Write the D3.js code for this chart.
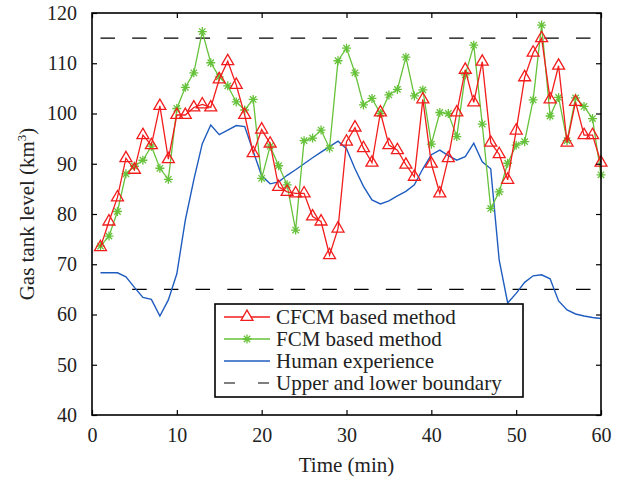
<!DOCTYPE html>
<html>
<head>
<meta charset="utf-8">
<script src="https://cdn.jsdelivr.net/npm/d3@7"></script>
<style>
  body { margin: 0; background: #fff; }
  svg { display: block; }
  svg text { font-family: "Liberation Serif", "Times New Roman", Times, "DejaVu Serif", serif; }
</style>
</head>
<body>
<svg width="621" height="481"></svg>
<script>
const TIME = d3.range(1, 61);

const CFCM = [73.4, 78.5, 83.3, 91.1, 88.8, 95.7, 93.7, 101.5, 90.9, 99.7,
  99.7, 101.2, 101.8, 101.2, 106.8, 110.4, 105.7, 99.7, 92.1, 96.8,
  94.0, 85.4, 84.4, 84.1, 84.1, 79.5, 78.5, 71.8, 77.1, 94.4,
  97.2, 93.1, 90.2, 100.2, 93.7, 92.7, 89.8, 87.4, 102.8, 90.0,
  84.1, 91.1, 100.2, 108.7, 102.2, 110.3, 94.2, 91.9, 86.8, 96.6,
  107.2, 112.1, 115.0, 102.8, 109.5, 94.2, 102.3, 95.7, 95.7, 90.2];

const FCM = [73.6, 75.6, 80.5, 88.0, 89.5, 90.7, 93.5, 89.1, 86.9, 101.0,
  105.2, 108.1, 116.3, 110.1, 107.3, 105.5, 102.3, 100.7, 102.8, 87.1,
  93.5, 89.6, 85.8, 76.8, 94.6, 95.1, 96.7, 93.1, 110.5, 113.0,
  108.1, 101.7, 103.0, 100.0, 103.7, 104.8, 111.2, 103.5, 104.7, 93.9,
  100.2, 100.0, 95.4, 107.7, 113.6, 97.9, 81.1, 84.4, 90.1, 93.7,
  94.4, 102.7, 117.6, 99.5, 103.2, 94.6, 103.1, 101.4, 99.0, 87.8];

const HUMAN = [68.3, 68.3, 68.3, 67.5, 65.4, 63.4, 63.0, 59.7, 62.9, 68.1,
  78.8, 86.8, 94.0, 97.7, 95.8, 96.7, 97.6, 97.4, 92.5, 87.6,
  86.0, 86.4, 87.7, 88.8, 90.0, 91.2, 92.3, 93.4, 94.5, 93.0,
  89.0, 85.5, 82.8, 82.0, 82.6, 83.6, 84.5, 85.8, 89.0, 91.8,
  92.7, 91.6, 90.7, 91.4, 94.1, 90.4, 89.0, 70.8, 62.3, 64.2,
  66.4, 67.7, 67.9, 67.1, 62.7, 60.9, 60.1, 59.7, 59.4, 59.2];

const BOUNDS = [115, 65];

const X_TICKS = [0, 10, 20, 30, 40, 50, 60];
const Y_TICKS = [40, 50, 60, 70, 80, 90, 100, 110, 120];

const LEGEND = [
  { label: "CFCM based method", key: "cfcm" },
  { label: "FCM based method", key: "fcm" },
  { label: "Human experience", key: "human" },
  { label: "Upper and lower boundary", key: "bound" }
];

const RED = "#f21c1c";
const GREEN = "#66c23a";
const BLUE = "#1f5cbf";
const SERIF = "'Liberation Serif', 'Times New Roman', Times, 'DejaVu Serif', serif";

const M = { left: 92, right: 601, top: 13, bottom: 415 };

const x = d3.scaleLinear().domain([0, 60]).range([M.left, M.right]);
const y = d3.scaleLinear().domain([40, 120]).range([M.bottom, M.top]);

const svg = d3.select("svg");

// boundaries
const line = d3.line().x((d, i) => x(TIME[i])).y(d => y(d));

svg.selectAll(".bound")
  .data(BOUNDS)
  .enter()
  .append("line")
  .attr("x1", x(TIME[0]))
  .attr("x2", x(TIME[TIME.length - 1]))
  .attr("y1", d => y(d))
  .attr("y2", d => y(d))
  .attr("stroke", "#000")
  .attr("stroke-width", 1.2)
  .attr("stroke-dasharray", "14.5,17.2");

// human experience
svg.append("path")
  .attr("d", line(HUMAN))
  .attr("fill", "none")
  .attr("stroke", BLUE)
  .attr("stroke-width", 1.4);

// FCM
svg.append("path")
  .attr("d", line(FCM))
  .attr("fill", "none")
  .attr("stroke", GREEN)
  .attr("stroke-width", 1.3);

const star = r => {
  const k = r * 0.7071;
  return `M${-r},0L${r},0M0,${-r}L0,${r}M${-k},${-k}L${k},${k}M${-k},${k}L${k},${-k}`;
};

svg.selectAll(".fcm")
  .data(FCM)
  .enter()
  .append("path")
  .attr("transform", (d, i) => `translate(${x(TIME[i])},${y(d)})`)
  .attr("d", star(4.5))
  .attr("fill", "none")
  .attr("stroke", GREEN)
  .attr("stroke-width", 1.3);

// CFCM
svg.append("path")
  .attr("d", line(CFCM))
  .attr("fill", "none")
  .attr("stroke", RED)
  .attr("stroke-width", 1.3);

const tri = d3.symbol().type(d3.symbolTriangle).size(62);

svg.selectAll(".cfcm")
  .data(CFCM)
  .enter()
  .append("path")
  .attr("transform", (d, i) => `translate(${x(TIME[i])},${y(d)})`)
  .attr("d", tri())
  .attr("fill", "none")
  .attr("stroke", RED)
  .attr("stroke-width", 1.3);

// axes
const axisG = svg.append("g");

axisG.append("g")
  .attr("transform", `translate(0,${M.bottom})`)
  .call(d3.axisBottom(x).tickValues(X_TICKS).tickSize(-5).tickPadding(13).tickSizeOuter(0))
  .call(g => g.select(".domain").remove());

axisG.append("g")
  .attr("transform", `translate(0,${M.top})`)
  .call(d3.axisTop(x).tickValues(X_TICKS).tickSize(-5).tickFormat("").tickSizeOuter(0))
  .call(g => g.select(".domain").remove());

axisG.append("g")
  .attr("transform", `translate(${M.left},0)`)
  .call(d3.axisLeft(y).tickValues(Y_TICKS).tickSize(-5).tickPadding(15).tickSizeOuter(0))
  .call(g => g.select(".domain").remove());

axisG.append("g")
  .attr("transform", `translate(${M.right},0)`)
  .call(d3.axisRight(y).tickValues(Y_TICKS).tickSize(-5).tickFormat("").tickSizeOuter(0))
  .call(g => g.select(".domain").remove());

axisG.selectAll("g").attr("font-family", SERIF);
axisG.selectAll(".tick line").attr("stroke", "#000").attr("stroke-width", 1.2);
axisG.selectAll(".tick text")
  .style("font-family", SERIF)
  .attr("font-size", 20)
  .attr("fill", "#222");

svg.append("rect")
  .attr("x", M.left)
  .attr("y", M.top)
  .attr("width", M.right - M.left)
  .attr("height", M.bottom - M.top)
  .attr("fill", "none")
  .attr("stroke", "#000")
  .attr("stroke-width", 1.6);

// axis titles
svg.append("text")
  .attr("x", (M.left + M.right) / 2)
  .attr("y", 472)
  .attr("text-anchor", "middle")
  .style("font-family", SERIF)
  .attr("font-size", 21)
  .attr("fill", "#222")
  .text("Time (min)");

const yt = svg.append("text")
  .attr("transform", `translate(34,${(M.top + M.bottom) / 2}) rotate(-90)`)
  .attr("text-anchor", "middle")
  .style("font-family", SERIF)
  .attr("font-size", 21)
  .attr("fill", "#222");
yt.append("tspan").text("Gas tank level (km");
yt.append("tspan").attr("font-size", 13).attr("dy", -8).text("3");
yt.append("tspan").attr("dy", 8).text(")");

// legend
const LG = { x: 215, y: 304, w: 308, h: 93, row: 22 };
const lg = svg.append("g");
lg.append("rect")
  .attr("x", LG.x).attr("y", LG.y)
  .attr("width", LG.w).attr("height", LG.h)
  .attr("fill", "#fff")
  .attr("stroke", "#000")
  .attr("stroke-width", 1.6);

const items = lg.selectAll(".item")
  .data(LEGEND)
  .enter()
  .append("g")
  .attr("transform", (d, i) => `translate(${LG.x},${LG.y + 13 + i * LG.row})`);

const col = { cfcm: RED, fcm: GREEN, human: BLUE, bound: "#000" };

items.append("line")
  .attr("x1", 9).attr("x2", 55)
  .attr("stroke", d => col[d.key])
  .attr("stroke-width", d => d.key === "bound" ? 1.2 : 1.4)
  .attr("stroke-dasharray", d => d.key === "bound" ? "11,23" : null);

items.filter(d => d.key === "cfcm")
  .append("path")
  .attr("transform", "translate(32,0)")
  .attr("d", tri())
  .attr("fill", "#fff")
  .attr("stroke", RED)
  .attr("stroke-width", 1.3);

items.filter(d => d.key === "fcm")
  .append("path")
  .attr("transform", "translate(32,0)")
  .attr("d", star(4.5))
  .attr("stroke", GREEN)
  .attr("stroke-width", 1.3);

items.append("text")
  .attr("x", 61)
  .attr("dy", "0.33em")
  .style("font-family", SERIF)
  .attr("font-size", 21)
  .attr("fill", "#222")
  .text(d => d.label);
</script>
</body>
</html>
